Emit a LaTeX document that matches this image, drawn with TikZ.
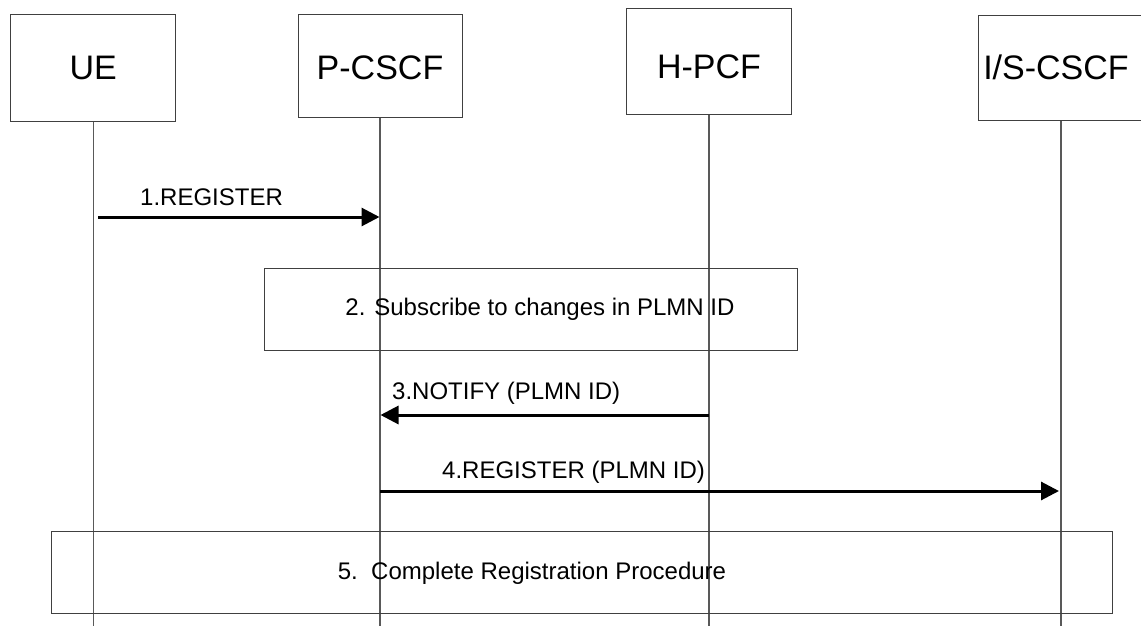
\documentclass[tikz,border=0pt]{standalone}
\usepackage{fontspec}
\setmainfont{Liberation Sans}
\usetikzlibrary{arrows.meta}
\begin{document}
\begin{tikzpicture}[x=1pt,y=-1pt,
  actor/.style={draw=black!75,line width=1pt,rectangle,inner sep=0pt},
  actortext/.style={inner sep=0pt,font=\fontsize{34}{40}\selectfont},
  lifeline/.style={draw=black!65,line width=1.2pt},
  msg/.style={draw=black,line width=3pt,-{Triangle[length=18pt,width=18pt]}},
  procbox/.style={draw=black!75,line width=1pt,rectangle,inner sep=0pt},
  lbl/.style={font=\fontsize{24}{28}\selectfont,inner sep=0pt,anchor=base west}]
\useasboundingbox (0,0) rectangle (1141,626);
% actors
\node[actor,minimum width=165pt,minimum height=107pt] (ue) at (93.3,68) {};
\node[actortext] (uet) at (93.3,67.5) {UE};
\node[actor,minimum width=164pt,minimum height=102pt] (pcscf) at (380,66) {};
\node[actortext] (pcscft) at (380,67.5) {P-CSCF};
\node[actor,minimum width=165pt,minimum height=105pt] (hpcf) at (709,61.5) {};
\node[actortext] (hpcft) at (709,66.5) {H-PCF};
\node[actor,minimum width=166pt,minimum height=105pt] (iscscf) at (1061,68) {};
\node[actortext] (iscscft) at (1056,67) {I/S-CSCF};
% lifeline ends
\coordinate (uebot) at (93.3,626);
\coordinate (pbot) at (380,626);
\coordinate (hbot) at (709,626);
\coordinate (ibot) at (1061,626);
\draw[lifeline] (ue.south) -- (uebot);
\draw[lifeline] (pcscf.south) -- (pbot);
\draw[lifeline] (hpcf.south) -- (hbot);
\draw[lifeline] (iscscf.south) -- (ibot);
% message 1
\coordinate (m1s) at (98,217);
\coordinate (m1e) at (379.5,217);
\draw[msg] (m1s) -- (m1e);
\node[lbl] (l1) at (140,205) {1.REGISTER};
% box 2
\node[procbox,minimum width=533pt,minimum height=82pt] (b2) at (530.5,309) {};
\node[font=\fontsize{24}{28}\selectfont,inner sep=0pt] (t2) at (540,309) {2. Subscribe to changes in PLMN ID};
% message 3
\coordinate (m3s) at (709,415);
\coordinate (m3e) at (380.5,415);
\draw[msg] (m3s) -- (m3e);
\node[lbl] (l3) at (392,399) {3.NOTIFY (PLMN ID)};
% message 4
\coordinate (m4s) at (380,491);
\coordinate (m4e) at (1059,491);
\draw[msg] (m4s) -- (m4e);
\node[lbl] (l4) at (442,478) {4.REGISTER (PLMN ID)};
% box 5
\node[procbox,minimum width=1061pt,minimum height=82pt] (b5) at (581.5,572) {};
\node[font=\fontsize{24}{28}\selectfont,inner sep=0pt] (t5) at (532,573) {5.\ \ Complete Registration Procedure};
\end{tikzpicture}
\end{document}
